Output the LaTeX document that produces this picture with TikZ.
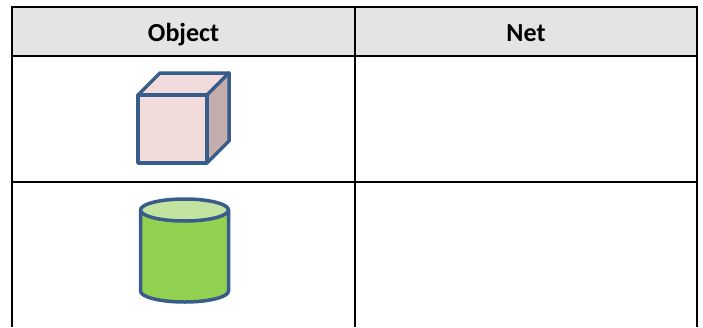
\documentclass[tikz,border=0pt]{standalone}
\usepackage{fontspec}
\setmainfont{Carlito}
\usetikzlibrary{shapes}
\definecolor{tabgray}{HTML}{E4E4E4}
\definecolor{edgeblue}{HTML}{385D8A}
\definecolor{cubepink}{HTML}{F2DCDB}
\definecolor{cubeside}{HTML}{C4AEAD}
\definecolor{cylgreen}{HTML}{92D050}
\definecolor{cyltop}{HTML}{C3E3A0}
\tikzset{
	tab_l/.style = {draw=black, line width=2pt},% ligne du tableau
	tab_h/.style = {inner sep=0pt, text centered, anchor=base,
		font=\bfseries\fontsize{26}{30}\selectfont},% titre de colonne
	obj_e/.style = {draw=edgeblue, line width=3.5pt, line join=round}% bord des solides
}

\begin{document}
\begin{tikzpicture}[x=1pt,y=-1pt]
		\useasboundingbox (0,0) rectangle (703,327);
		\fill[tabgray] (12,7) rectangle (697,56);
		\node [tab_h] (obj) at (183.5,41) {Object};
		\node [tab_h] (net) at (526,41) {Net};
		% lignes du tableau
		\draw[tab_l] (12,327) -- (12,7) -- (697,7) -- (697,327);
		\draw[tab_l] (12,56) -- (697,56);
		\draw[tab_l] (12,182) -- (697,182);
		\draw[tab_l] (355,7) -- (355,327);
		% cube
		\draw[obj_e, fill=cubepink] (138,95) -- (160,73) -- (229,73) -- (207,95) -- cycle;
		\draw[obj_e, fill=cubeside] (207,95) -- (229,73) -- (229,141) -- (207,163) -- cycle;
		\draw[obj_e, fill=cubepink] (138,95) rectangle (207,163);
		% cylindre
		\draw[obj_e, fill=cylgreen] (140.5,210) -- (140.5,291) arc (180:0:44 and 11) -- (228.5,210);
		\draw[obj_e, fill=cyltop] (184.5,210) ellipse (44 and 11);
		;\end{tikzpicture}
\end{document}
